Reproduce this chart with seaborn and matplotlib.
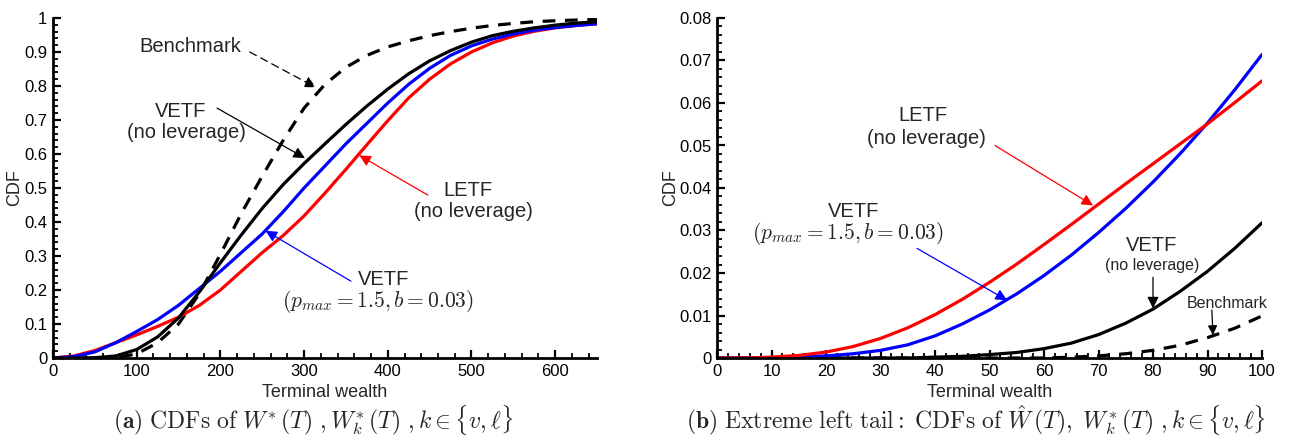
import numpy as np
import pandas as pd
import matplotlib
matplotlib.use("Agg")
import matplotlib.pyplot as plt
from matplotlib.ticker import MultipleLocator, FuncFormatter
import seaborn as sns

# ---------------- data: panel (a) ----------------
wealth_a = [0, 25, 50, 75, 100, 125, 150, 175, 200, 225, 250, 275, 300, 325,
            350, 375, 400, 425, 450, 475, 500, 525, 550, 575, 600, 625, 650]
bench_a = [0, 0, 0, 0.001, 0.012, 0.045, 0.10, 0.19, 0.305, 0.425, 0.535, 0.64,
           0.735, 0.805, 0.855, 0.89, 0.915, 0.933, 0.948, 0.96, 0.97, 0.978,
           0.984, 0.989, 0.992, 0.994, 0.996]
vetf_nolev_a = [0, 0, 0.001, 0.006, 0.025, 0.062, 0.118, 0.195, 0.28, 0.362,
                0.44, 0.51, 0.572, 0.63, 0.687, 0.741, 0.791, 0.836, 0.874,
                0.904, 0.929, 0.948, 0.961, 0.971, 0.979, 0.985, 0.989]
vetf_lev_a = [0, 0.004, 0.018, 0.045, 0.078, 0.113, 0.155, 0.205, 0.255, 0.31,
              0.365, 0.43, 0.50, 0.565, 0.63, 0.69, 0.75, 0.805, 0.852, 0.89,
              0.918, 0.938, 0.953, 0.964, 0.972, 0.978, 0.983]
letf_a = [0, 0.006, 0.022, 0.045, 0.068, 0.093, 0.12, 0.155, 0.20, 0.255, 0.31,
          0.36, 0.418, 0.485, 0.555, 0.627, 0.698, 0.765, 0.82, 0.865, 0.90,
          0.927, 0.947, 0.961, 0.971, 0.978, 0.983]

# ---------------- data: panel (b) ----------------
wealth_b = [0, 5, 10, 15, 20, 25, 30, 35, 40, 45, 50, 55, 60, 65, 70, 75, 80,
            85, 90, 95, 100]
letf_b = [0, 0, 0.0002, 0.0006, 0.0014, 0.0027, 0.0046, 0.0071, 0.0102,
          0.0138, 0.0178, 0.0221, 0.0267, 0.0314, 0.0362, 0.041, 0.0457,
          0.0504, 0.0551, 0.0601, 0.0652]
vetf_lev_b = [0, 0, 0.0001, 0.0002, 0.0005, 0.001, 0.0018, 0.0031, 0.0052,
              0.008, 0.0113, 0.0151, 0.0194, 0.0242, 0.0295, 0.0352, 0.0414,
              0.0481, 0.0553, 0.0631, 0.0714]
vetf_nolev_b = [0, 0, 0, 0, 0, 0, 0, 0, 0.0002, 0.0004, 0.0008, 0.0013, 0.0022,
                0.0035, 0.0055, 0.0082, 0.0115, 0.0157, 0.0204, 0.0258, 0.0318]
bench_b = [0, 0, 0, 0, 0, 0, 0, 0, 0, 0, 0, 0, 0, 0.0002, 0.0005, 0.001, 0.0018,
           0.003, 0.0048, 0.007, 0.0099]

sns.set_theme(style="ticks")
plt.rcParams["font.family"] = ["Liberation Sans", "DejaVu Sans"]
plt.rcParams["mathtext.fontset"] = "cm"

W, H = 1295, 440
fig = plt.figure(figsize=(W / 100, H / 100), dpi=100)
axA = fig.add_axes([53 / W, (H - 358) / H, 544 / W, 340 / H])
axB = fig.add_axes([717 / W, (H - 358) / H, 545 / W, 340 / H])

LW = 2.3


def draw(ax, x, series):
    for y, col, ls in series:
        sns.lineplot(x=x, y=y, ax=ax, color=col, linestyle=ls, linewidth=LW,
                     legend=False, estimator=None, sort=False)


draw(axA, wealth_a, [(bench_a, "black", (0, (4, 3))),
                     (letf_a, "red", "-"),
                     (vetf_lev_a, "blue", "-"),
                     (vetf_nolev_a, "black", "-")])
draw(axB, wealth_b, [(bench_b, "black", (0, (4, 3))),
                     (vetf_nolev_b, "black", "-"),
                     (vetf_lev_b, "blue", "-"),
                     (letf_b, "red", "-")])

fmt = FuncFormatter(lambda v, p: f"{v:g}")
for ax, ylx in ((axA, -0.07), (axB, -0.086)):
    for s in ("top", "right"):
        ax.spines[s].set_visible(False)
    for s in ("left", "bottom"):
        ax.spines[s].set_linewidth(2.0)
        ax.spines[s].set_color("black")
    ax.tick_params(which="major", direction="in", length=6, width=1.6,
                   labelsize=12, colors="black", pad=4)
    ax.tick_params(which="minor", direction="in", length=3.5, width=1.3,
                   colors="black")
    ax.set_ylabel("CDF", fontsize=13)
    ax.set_xlabel("Terminal wealth", fontsize=13)
    ax.yaxis.set_label_coords(ylx, 0.5)
    ax.xaxis.set_label_coords(0.5, -0.1)
    ax.xaxis.label.set_va("center")
    ax.yaxis.label.set_va("center")
    ax.yaxis.set_major_formatter(fmt)
    ax.xaxis.set_major_formatter(fmt)
    ax.grid(False)

axA.set_xlim(0, 650)
axA.set_ylim(0, 1)
axA.xaxis.set_major_locator(MultipleLocator(100))
axA.xaxis.set_minor_locator(MultipleLocator(20))
axA.yaxis.set_major_locator(MultipleLocator(0.1))
axA.yaxis.set_minor_locator(MultipleLocator(0.02))

axB.set_xlim(0, 100)
axB.set_ylim(0, 0.08)
axB.xaxis.set_major_locator(MultipleLocator(10))
axB.xaxis.set_minor_locator(MultipleLocator(2))
axB.yaxis.set_major_locator(MultipleLocator(0.01))
axB.yaxis.set_minor_locator(MultipleLocator(0.002))

FS = 14.5
FM = 15.5
FSS = 11.5


def arrow(ax, start, tip, col, ls="-", ms=17):
    ax.annotate("", xy=tip, xytext=start,
                arrowprops=dict(arrowstyle="-|>", color=col, lw=0.9,
                                linestyle=ls, mutation_scale=ms,
                                shrinkA=0, shrinkB=0))


# ---- panel (a) annotations ----
axA.text(164, 0.915, "Benchmark", ha="center", va="center", fontsize=FS)
arrow(axA, (235, 0.90), (314, 0.796), "black", ls=(0, (6, 4)))
axA.text(152, 0.724, "VETF", ha="center", va="center", fontsize=FS)
axA.text(160, 0.662, "(no leverage)", ha="center", va="center", fontsize=FS)
arrow(axA, (196, 0.735), (301, 0.588), "black")
axA.text(496, 0.494, "LETF", ha="center", va="center", fontsize=FS)
axA.text(502, 0.430, "(no leverage)", ha="center", va="center", fontsize=FS)
arrow(axA, (448, 0.479), (366, 0.596), "red")
axA.text(395, 0.232, "VETF", ha="center", va="center", fontsize=FS)
axA.text(388, 0.166, r"$(p_{max} = 1.5, b = 0.03)$", ha="center",
         va="center", fontsize=FM)
arrow(axA, (356, 0.226), (254, 0.374), "blue")

# ---- panel (b) annotations ----
axB.text(37.8, 0.0570, "LETF", ha="center", va="center", fontsize=FS)
axB.text(38.5, 0.0516, "(no leverage)", ha="center", va="center", fontsize=FS)
arrow(axB, (51, 0.0500), (69, 0.0359), "red")
axB.text(25, 0.0345, "VETF", ha="center", va="center", fontsize=FS)
axB.text(24, 0.0293, r"$(p_{max} = 1.5, b = 0.03)$", ha="center",
         va="center", fontsize=FM)
arrow(axB, (36.7, 0.0258), (53.2, 0.0136), "blue")
axB.text(79.8, 0.0265, "VETF", ha="center", va="center", fontsize=FS)
axB.text(79.8, 0.0218, "(no leverage)", ha="center", va="center",
         fontsize=FSS)
arrow(axB, (80, 0.0190), (80, 0.0117), "black")
axB.text(93.6, 0.0129, "Benchmark", ha="center", va="center", fontsize=FSS)
arrow(axB, (90.8, 0.0113), (91.0, 0.0054), "black", ms=14)

# ---- captions ----
fig.text(313 / W, 1 - 420 / H,
         r"$\mathbf{(a)}\ \mathrm{CDFs\ of}\ W^{*}\,(T)\ ,W_k^{*}\,(T)\ ,k\in\{v,\ell\}$",
         ha="center", va="center", fontsize=17)
fig.text(976 / W, 1 - 420 / H,
         r"$\mathbf{(b)}\ \mathrm{Extreme\ left\ tail:\ CDFs\ of}\ \hat{W}\,(T),\ W_k^{*}\,(T)\ ,k\in\{v,\ell\}$",
         ha="center", va="center", fontsize=17)

fig.savefig("out.png", dpi=100)
